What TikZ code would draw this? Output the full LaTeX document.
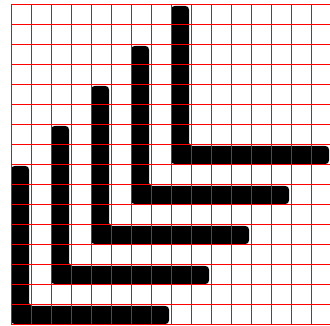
\documentclass[tikz,border=0pt]{standalone}
\usepackage{tikz}

\begin{document}
\begin{tikzpicture}[ellbar/.style={fill=black, rounded corners=5pt},
                    gridline/.style={red, line width=0.5pt}]
  \useasboundingbox (-0.55,-0.1) rectangle (15.95,16.2);
  \foreach \k in {0,...,4} {
    \pgfmathsetmacro{\a}{2*\k}
    \fill[ellbar] (\a,\a) -- (\a,\a+7.9) -- (\a+0.9,\a+7.9) -- (\a+0.9,\a+0.9)
      -- (\a+7.9,\a+0.9) -- (\a+7.9,\a) -- cycle;
  }
  \draw[gridline] (0,0) grid (16,16);
\end{tikzpicture}
\end{document}
